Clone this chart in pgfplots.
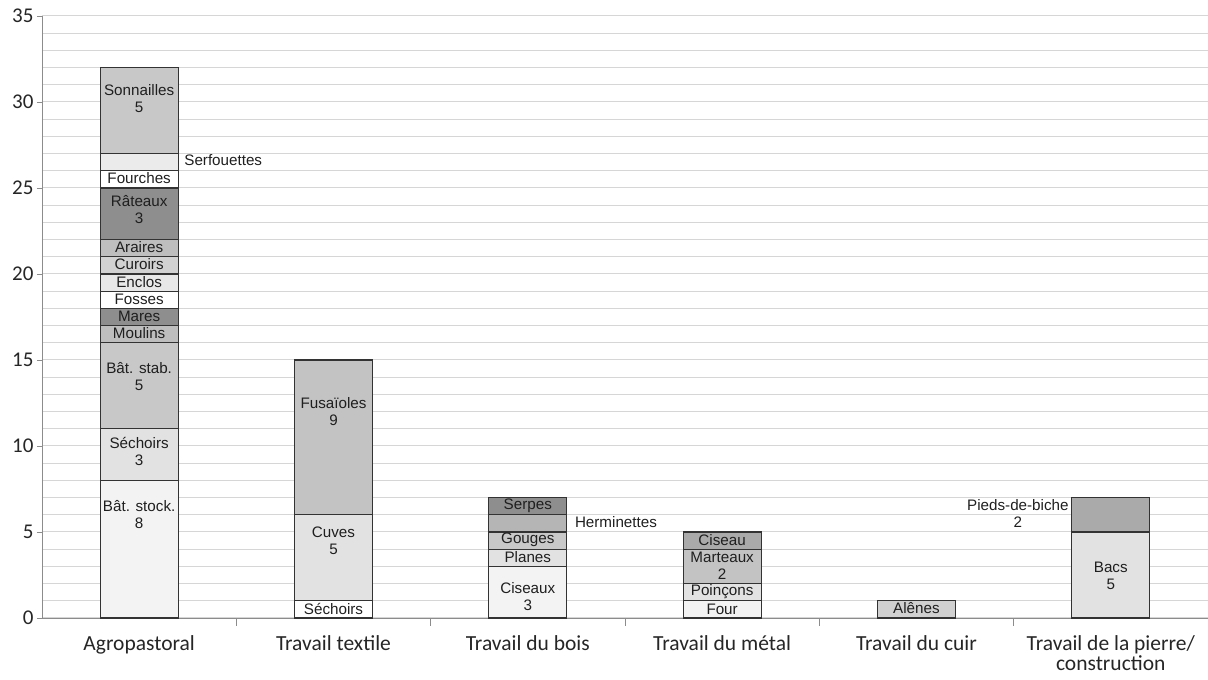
\documentclass[border=0pt]{standalone}
\usepackage{pgfplots}
\pgfplotsset{compat=1.18}
\usepackage{fontspec}
\setmainfont{Liberation Sans}
\newfontfamily\calfont{Carlito}
\definecolor{gA}{HTML}{F3F3F3}
\definecolor{gB}{HTML}{E2E2E2}
\definecolor{gBB}{HTML}{E8E8E8}
\definecolor{gS}{HTML}{EBEBEB}
\definecolor{gC}{HTML}{C8C8C8}
\definecolor{gCu}{HTML}{D2D2D2}
\definecolor{gD}{HTML}{BEBEBE}
\definecolor{gF}{HTML}{C3C3C3}
\definecolor{gH}{HTML}{B5B5B5}
\definecolor{gP}{HTML}{AAAAAA}
\definecolor{gE}{HTML}{8E8E8E}
\definecolor{gAl}{HTML}{D0D0D0}
\pgfplotsset{
  base/.style={scale only axis, width=1166pt, height=602pt, at={(0pt,0pt)}, anchor=south west,
    xmin=-0.5, xmax=5.5, ymin=0, ymax=35, ybar stacked, bar width=78pt, clip=false},
  hid/.style={base, hide axis},
  seg/.style={fill=#1, draw=black!80, line width=1.1pt},
}
\tikzset{lab/.style={font=\fontsize{15.2}{17}\selectfont, align=center, inner sep=0pt, text=black!88}}
\begin{document}
\begin{tikzpicture}
\path[use as bounding box] (-42pt,-62pt) rectangle (1166pt,618pt);
% ---- Agropastoral (with axes and grid)
\begin{axis}[base,
  axis x line*=bottom, axis y line*=left,
  axis line style={-, draw=black!45, line width=0.8pt},
  xtick={0,...,5},
  xticklabels={Agropastoral, Travail textile, Travail du bois, Travail du métal, Travail du cuir, {Travail de la pierre/\\construction}},
  xticklabel style={font=\calfont\fontsize{21.5}{20}\selectfont, align=center, anchor=north, yshift=-9pt, text=black!85},
  major x tick style={draw=none},
  minor xtick={0.5,1.5,2.5,3.5,4.5},
  minor x tick style={draw=black!45, line width=0.8pt},
  ytick={0,5,...,35},
  minor ytick={0,...,35},
  minor y tick style={draw=none},
  major y tick style={draw=black!45, line width=0.8pt},
  yticklabel style={font=\calfont\fontsize{21}{21}\selectfont, text=black!85},
  /pgf/number format/assume math mode=true,
  tick align=outside, tickpos=left,
  major tick length=5pt, minor tick length=8pt,
  ymajorgrids, yminorgrids,
  grid style={draw=black!16, line width=1pt},
  minor grid style={draw=black!16, line width=1pt},
]
\addplot[seg=gA] coordinates {(0,8)};
\addplot[seg=gB] coordinates {(0,3)};
\addplot[seg=gC] coordinates {(0,5)};
\addplot[seg=gD] coordinates {(0,1)};
\addplot[seg=gE] coordinates {(0,1)};
\addplot[seg=white] coordinates {(0,1)};
\addplot[seg=gBB] coordinates {(0,1)};
\addplot[seg=gCu] coordinates {(0,1)};
\addplot[seg=gD] coordinates {(0,1)};
\addplot[seg=gE] coordinates {(0,3)};
\addplot[seg=white] coordinates {(0,1)};
\addplot[seg=gS] coordinates {(0,1)};
\addplot[seg=gC] coordinates {(0,5)};
\end{axis}
% ---- Travail textile
\begin{axis}[hid]
\addplot[seg=white] coordinates {(1,1)};
\addplot[seg=gB] coordinates {(1,5)};
\addplot[seg=gF] coordinates {(1,9)};
\end{axis}
% ---- Travail du bois
\begin{axis}[hid]
\addplot[seg=gA] coordinates {(2,3)};
\addplot[seg=gB] coordinates {(2,1)};
\addplot[seg=gC] coordinates {(2,1)};
\addplot[seg=gH] coordinates {(2,1)};
\addplot[seg=gE] coordinates {(2,1)};
\end{axis}
% ---- Travail du metal
\begin{axis}[hid]
\addplot[seg=gA] coordinates {(3,1)};
\addplot[seg=gB] coordinates {(3,1)};
\addplot[seg=gF] coordinates {(3,2)};
\addplot[seg=gP] coordinates {(3,1)};
\end{axis}
% ---- Travail du cuir
\begin{axis}[hid]
\addplot[seg=gAl] coordinates {(4,1)};
\end{axis}
% ---- Travail de la pierre
\begin{axis}[hid]
\addplot[seg=gB] coordinates {(5,5)};
\addplot[seg=gP] coordinates {(5,2)};
\end{axis}
% ---- Labels on top
\begin{axis}[hid]
\node[lab] at (axis cs:0,6.0) {Bât. stock.\\8};
\node[lab] at (axis cs:0,9.68) {Séchoirs\\3};
\node[lab] at (axis cs:0,14.04) {Bât. stab.\\5};
\node[lab] at (axis cs:0,16.55) {Moulins};
\node[lab] at (axis cs:0,17.55) {Mares};
\node[lab] at (axis cs:0,18.55) {Fosses};
\node[lab] at (axis cs:0,19.55) {Enclos};
\node[lab] at (axis cs:0,20.55) {Curoirs};
\node[lab] at (axis cs:0,21.55) {Araires};
\node[lab] at (axis cs:0,23.72) {Râteaux\\3};
\node[lab] at (axis cs:0,25.55) {Fourches};
\node[lab, anchor=west, xshift=45pt] at (axis cs:0,26.6) {Serfouettes};
\node[lab] at (axis cs:0,30.2) {Sonnailles\\5};
\node[lab] at (axis cs:1,0.52) {Séchoirs};
\node[lab] at (axis cs:1,4.5) {Cuves\\5};
\node[lab] at (axis cs:1,12.0) {Fusaïoles\\9};
\node[lab] at (axis cs:2,1.25) {Ciseaux\\3};
\node[lab] at (axis cs:2,3.55) {Planes};
\node[lab] at (axis cs:2,4.55) {Gouges};
\node[lab, anchor=west, xshift=47pt] at (axis cs:2,5.55) {Herminettes};
\node[lab] at (axis cs:2,6.55) {Serpes};
\node[lab] at (axis cs:3,0.52) {Four};
\node[lab] at (axis cs:3,1.55) {Poinçons};
\node[lab] at (axis cs:3,3.05) {Marteaux\\2};
\node[lab] at (axis cs:3,4.55) {Ciseau};
\node[lab] at (axis cs:4,0.55) {Alênes};
\node[lab] at (axis cs:5,2.47) {Bacs\\5};
\node[lab, anchor=east, xshift=-42pt] at (axis cs:5,6.05) {Pieds-de-biche\\2};
\end{axis}
\end{tikzpicture}
\end{document}
